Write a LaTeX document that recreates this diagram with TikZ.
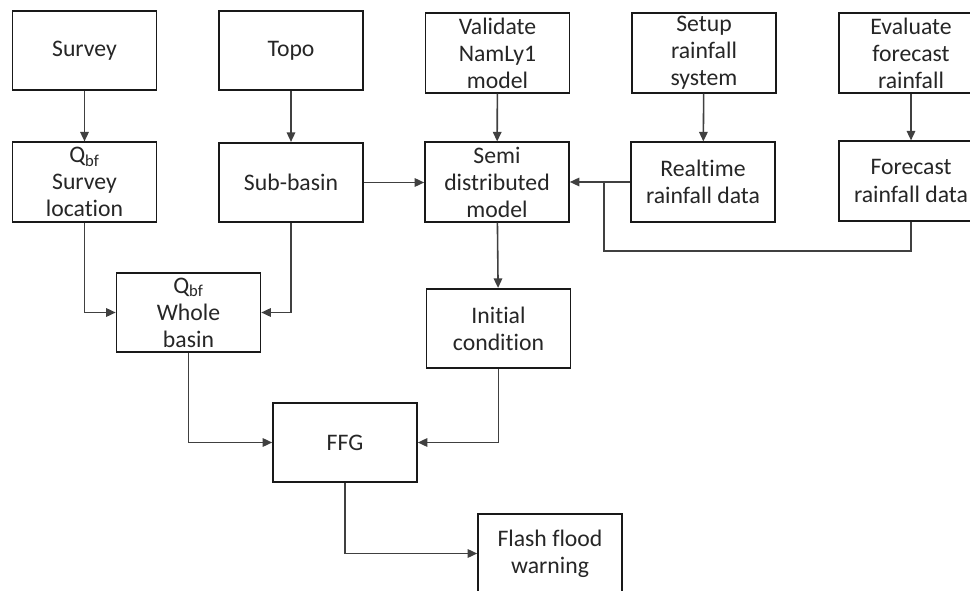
\documentclass[tikz,border=0pt]{standalone}
\usepackage{fontspec}
\setmainfont{Carlito}[Ligatures=NoCommon]
\usetikzlibrary{arrows.meta}
\begin{document}
\begin{tikzpicture}[x=0.02cm,y=-0.02cm,
  box/.style={draw=black!90,line width=0.95pt,minimum width=2.88cm,minimum height=1.59cm,
    inner sep=0pt,align=center,text=black!85,font=\fontsize{13.5}{15.4}\selectfont},
  conn/.style={draw=black!75,line width=0.9pt},
  arr/.style={conn,-{Triangle[length=0.19cm,width=0.17cm]}}]
\clip (0,0) rectangle (970,591);
\fill[white] (0,0) rectangle (970,591);
% top row
\node[box] (survey) at (84.5,50.5) {Survey};
\node[box] (topo) at (291,50.5) {Topo};
\node[box] (validate) at (497.5,53) {Validate\\NamLy1\\model};
\node[box] (setup) at (704,53) {Setup\\rainfall\\system};
\node[box] (evaluate) at (911,53) {Evaluate\\forecast\\rainfall};
% second row
\node[box] (qs) at (84.5,182) {Q\textsubscript{bf}\\Survey\\location};
\node[box] (sub) at (291,182.5) {Sub-basin};
\node[box] (semi) at (497,182) {Semi\\distributed\\model};
\node[box] (real) at (703,182) {Realtime\\rainfall data};
\node[box] (fore) at (911,181) {Forecast\\rainfall data};
% lower
\node[box] (whole) at (188.5,312.5) {Q\textsubscript{bf}\\Whole\\basin};
\node[box] (init) at (498.5,328.5) {Initial\\condition};
\node[box] (ffg) at (345,442.5) {FFG};
\node[box] (flash) at (550,553.5) {Flash flood\\warning};
\coordinate (j) at (604,251);
% connectors
\draw[arr] (survey) -- (qs);
\draw[arr] (topo) -- (sub);
\draw[arr] (validate) -- (semi);
\draw[arr] (setup) -- (real);
\draw[arr] (evaluate) -- (fore);
\draw[arr] (sub.east) -- (semi.west |- sub.east);
\draw[arr] (real) -- (semi);
\draw[conn] (fore.south) |- (j) -- (j |- real.west);
\draw[arr] (semi) -- (init);
\draw[arr] (qs.south) |- (whole.west);
\draw[arr] (sub.south) |- (whole.east);
\draw[arr] (whole.south) |- (ffg.west);
\draw[arr] (init.south) |- (ffg.east);
\draw[arr] (ffg.south) |- (flash.west);
\end{tikzpicture}
\end{document}
